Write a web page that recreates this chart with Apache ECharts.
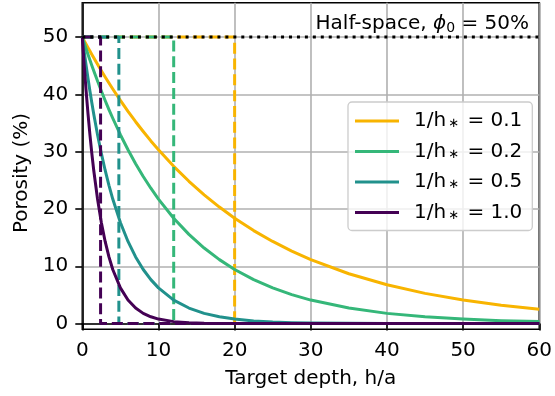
<!DOCTYPE html>
<html>
<head>
<meta charset="utf-8">
<script src="https://cdn.jsdelivr.net/npm/echarts@6/dist/echarts.min.js"></script>
<style>html,body{margin:0;padding:0;background:#fff}#c{width:555px;height:396px}</style>
</head>
<body>
<div id="c"></div>
<script>
// Sampled target depths (h/a)
const depth = [0,0.25,0.5,0.75,1,1.25,1.5,2,2.5,3,3.5,4,5,6,7,8,9,10,12,14,16,18,20,22.5,25,27.5,30,35,40,45,50,55,60];
// Porosity (%) for each 1/h* value
const por01 = [50,49.38,48.77,48.16,47.56,46.97,46.39,45.24,44.12,43.04,41.98,40.94,38.94,37.04,35.23,33.52,31.88,30.33,27.44,24.83,22.47,20.33,18.39,16.23,14.33,12.65,11.16,8.69,6.77,5.27,4.10,3.20,2.49];
const por02 = [50,48.97,47.96,46.97,46.00,45.05,44.12,42.32,40.60,38.94,37.35,35.83,32.96,30.33,27.90,25.67,23.62,21.73,18.39,15.57,13.18,11.16,9.44,7.67,6.23,5.06,4.10,2.71,1.78,1.18,0.78,0.51,0.34];
const por05 = [50,47.46,45.05,42.77,40.60,38.53,36.58,32.96,29.70,26.76,24.12,21.73,17.64,14.33,11.63,9.44,7.67,6.23,4.10,2.71,1.78,1.18,0.78,0.46,0.27,0.16,0.10,0.04,0.01,0,0,0,0];
const por10 = [50,45.05,40.60,36.58,32.96,29.70,26.76,21.73,17.64,14.33,11.63,9.44,6.23,4.10,2.71,1.78,1.18,0.78,0.34,0.15,0.06,0.03,0.01,0,0,0,0,0,0,0,0,0,0];
// Equivalent step depth (dashed boxes)
const stepDepth = [20, 12, 4.8, 2.4];
const labels = ['0.1','0.2','0.5','1.0'];
const phi0 = 50;
const xMax = 60;
const yTicks = [0,10,20,30,40,50];

const colors = ['#f8b400','#35b779','#21918c','#440154'];
const curves = [por01, por02, por05, por10];

const series = [];
curves.forEach((vals, i) => {
  series.push({
    name: 'h' + i, type: 'line', showSymbol: false, symbol: 'none', smooth: false,
    data: depth.map((d, j) => [d, vals[j]]),
    lineStyle: {color: colors[i], width: 3, join: 'round'}, itemStyle: {color: colors[i]},
    z: 2 + i * 2, silent: true
  });
  const s = stepDepth[i];
  series.push({
    name: 'step' + i, type: 'line', showSymbol: false, symbol: 'none',
    data: [[0, phi0], [s, phi0], [s, 0], [xMax, 0]],
    lineStyle: {color: colors[i], width: 3, type: [11, 4.8]}, itemStyle: {color: colors[i]},
    z: 3 + i * 2, silent: true
  });
});
series.push({
  name: 'half', type: 'line', showSymbol: false, symbol: 'none',
  data: [[0, phi0], [xMax, phi0]],
  lineStyle: {color: '#000', width: 3, type: [3, 4.95], cap: 'butt'},
  z: 20, silent: true
});

const chart = echarts.init(document.getElementById('c'), null, {renderer: 'canvas'});
const font = 'DejaVu Sans';
chart.setOption({
  animation: false,
  backgroundColor: '#fff',
  textStyle: {fontFamily: font},
  title: {
    text: 'Half-space, {i|ϕ}{s|0} = 50%',
    right: 21, top: 8,
    textStyle: {
      fontFamily: font, fontSize: 20, fontWeight: 'normal', color: '#000',
      rich: {
        i: {fontFamily: font, fontSize: 20, fontStyle: 'italic', color: '#000'},
        s: {fontFamily: font, fontSize: 14, color: '#000', padding: [8, 0, 0, 0]}
      }
    }
  },
  grid: {left: 82.3, right: 13.3, top: 2.7, bottom: 66.7, show: true, borderColor: '#000', borderWidth: 1.6, backgroundColor: 'transparent'},
  legend: {
    orient: 'vertical', left: 348, top: 102,
    data: ['h0','h1','h2','h3'],
    icon: 'rect', itemWidth: 44, itemHeight: 3, itemGap: 10.5,
    padding: [9, 10, 8, 7],
    backgroundColor: 'rgba(255,255,255,0.8)', borderColor: '#cccccc', borderWidth: 1.3, borderRadius: 4,
    formatter: function (n) { const k = +n.slice(1); return '1/h{s|∗} = ' + labels[k]; },
    textStyle: {
      fontFamily: font, fontSize: 20, color: '#000', padding: [0, 0, 0, 10],
      rich: {s: {fontFamily: font, fontSize: 13, color: '#000', padding: [6, 2, 0, 2]}}
    },
    z: 30
  },
  xAxis: {
    type: 'value', min: 0, max: xMax, interval: 10,
    name: 'Target depth, h/a', nameLocation: 'middle', nameGap: 39,
    nameTextStyle: {fontFamily: font, fontSize: 20, color: '#000'},
    axisLine: {show: true, lineStyle: {color: '#000', width: 1.6}},
    axisTick: {show: true, inside: false, length: 7, lineStyle: {color: '#000', width: 1.6}},
    axisLabel: {fontFamily: font, fontSize: 20, color: '#000', margin: 11},
    splitLine: {show: true, lineStyle: {color: '#b0b0b0', width: 1.6}}
  },
  yAxis: {
    type: 'value', min: -1, max: 56,
    name: 'Porosity (%)', nameLocation: 'middle', nameGap: 48,
    nameTextStyle: {fontFamily: font, fontSize: 20, color: '#000', padding: [0, 14, 0, 0]},
    axisLine: {show: true, lineStyle: {color: '#000', width: 1.6}},
    axisTick: {show: true, inside: false, length: 7, customValues: yTicks, lineStyle: {color: '#000', width: 1.6}},
    axisLabel: {fontFamily: font, fontSize: 20, color: '#000', margin: 14, customValues: yTicks},
    splitLine: {show: true, lineStyle: {color: '#b0b0b0', width: 1.6}}
  },
  series: series
});
</script>
</body>
</html>
